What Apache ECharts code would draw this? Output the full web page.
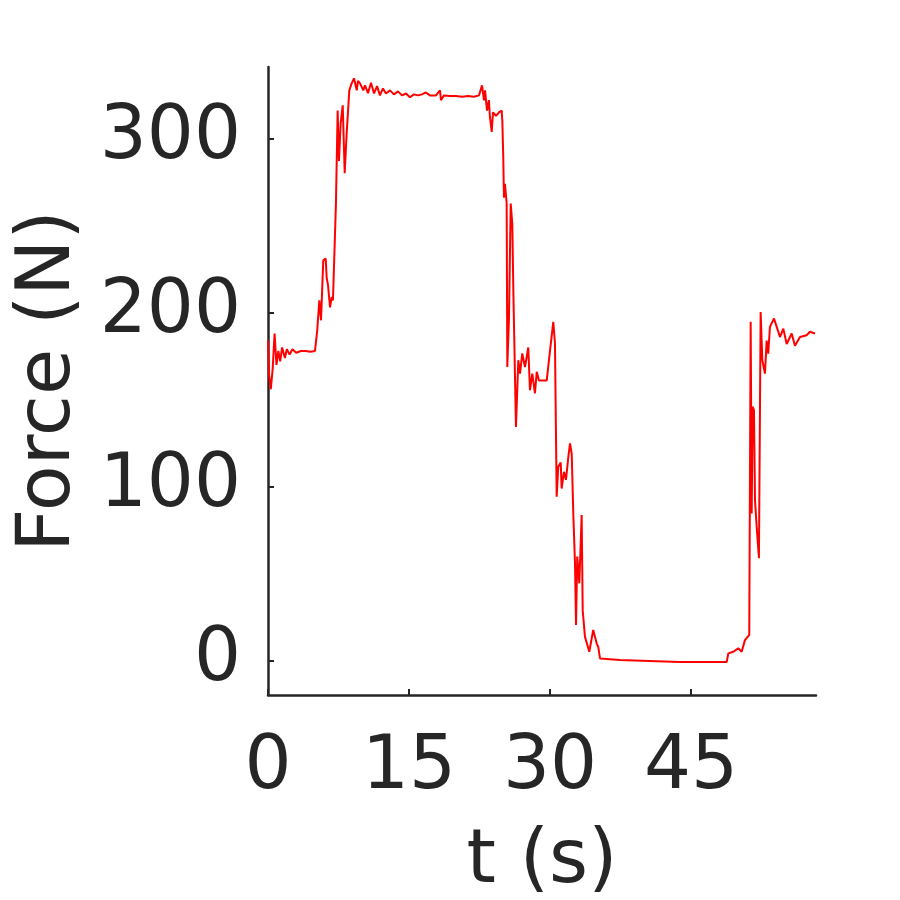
<!DOCTYPE html>
<html>
<head>
<meta charset="utf-8">
<script src="https://cdn.jsdelivr.net/npm/echarts@6/dist/echarts.min.js"></script>
<style>
html,body{margin:0;padding:0;background:#fff;}
#chart{width:900px;height:900px;}
</style>
</head>
<body>
<div id="chart"></div>
<script>
const timeS = [
  0, 0.1, 0.3, 0.5, 0.7, 0.9, 1.1, 1.3, 1.5, 1.8, 2.0, 2.3, 2.6, 3.0, 3.5, 4.0, 4.5, 5.0,
  5.24, 5.46, 5.64, 5.88, 6.14, 6.24, 6.38, 6.6, 6.78, 6.91, 7.23, 7.41, 7.55, 7.73, 7.95, 8.16, 8.37, 8.65, 8.9, 9.15, 9.44, 9.57, 9.79, 10.14,
  10.32, 10.64, 10.96, 11.28, 11.6, 11.91, 12.23, 12.55, 12.98, 13.4, 13.83, 14.26, 14.68, 15.1, 15.53, 15.96, 16.38, 16.8, 17.23, 17.87, 18.3, 18.4, 18.72, 19.36, 20.0, 20.64, 21.28, 21.9, 22.45,
  22.77, 22.98, 23.09, 23.3, 23.5, 23.6, 23.8, 23.94, 24.26, 24.57, 24.86, 24.93, 25.03, 25.1, 25.21, 25.39, 25.46, 25.64, 25.82, 25.99, 26.1, 26.38, 26.63, 26.81, 27.05, 27.34, 27.69, 27.87, 28.12, 28.4, 28.59, 28.83, 29.12, 29.65, 30.0, 30.35, 30.53,
  30.71, 30.88, 31.14, 31.24, 31.49, 31.7, 31.95, 32.13, 32.31, 32.48, 32.66, 32.77, 32.9, 33.12, 33.37, 33.48, 33.72, 34.18, 34.6, 34.97, 35.14, 35.32,
  37.45, 40.6, 43.8, 47.0, 48.8, 48.97, 49.5, 50.03, 50.39, 50.74, 51.2,
  51.35, 51.46, 51.56, 51.7, 51.81, 51.99, 52.23, 52.41, 52.59, 52.87, 53.05, 53.22, 53.4, 53.83, 54.12, 54.47, 54.82, 55.18, 55.71, 56.06, 56.6, 57.3, 57.66, 58.2
];
const forceN = [
  184, 165, 156, 168, 188, 170, 178, 172, 180, 174, 179, 176, 179, 177, 178, 178, 177.5, 178,
  190, 207, 195.6, 230, 231, 220, 216, 203, 209, 207, 263, 316, 287, 308.7, 319, 280, 303, 327.6, 331.6, 334.5, 327.6, 333, 331.6, 327.6,
  330.5, 326, 332, 325.8, 330, 324.7, 328.7, 325.8, 327.6, 325.3, 327, 324.7, 325.8, 323.6, 325.3, 324.7, 325.3, 326.4, 324.7, 324.7, 327.6, 321.9, 324.7, 324.4, 324.4, 323.9, 324.4, 323.9, 324.7,
  330.5, 321.9, 327.6, 316, 322, 313, 303.7, 315, 313, 315, 316, 310, 289, 266, 274, 262.8, 168.8, 197.5, 262.6, 251, 213, 134.4, 172.7, 165, 176.6, 168.8, 180, 155.5, 165, 153.7, 166, 161, 161, 161, 178, 194.7, 182.4,
  94.3, 111.5, 114, 99, 108.6, 104, 117, 124.9, 119, 84.7, 56, 20.7, 60, 44.6, 83.8, 29, 14, 5.3, 17.8, 10, 8, 1.5,
  0.6, 0, -0.6, -0.6, -0.6, 4.4, 5.3, 7.3, 5.3, 12, 15,
  194.7, 84.7, 146, 144, 92.4, 77, 59, 200.4, 172.7, 165, 184, 176.5, 191.8, 196.6, 191.8, 186, 190.8, 182, 188, 181, 186, 187, 189, 188
];
const xTicks = [0, 15, 30, 45];
const yTicks = [0, 100, 200, 300];

const points = timeS.map((t, i) => [t, forceN[i]]);
const textColor = '#262626';
const font = 'DejaVu Sans';

const chart = echarts.init(document.getElementById('chart'));
chart.setOption({
  animation: false,
  backgroundColor: '#ffffff',
  grid: { left: 268, right: 84, top: 67, bottom: 205, containLabel: false, outerBoundsMode: 'none' },
  xAxis: {
    type: 'value', min: 0, max: 58.3,
    name: 't (s)', nameLocation: 'middle', nameGap: 130,
    nameTextStyle: { color: textColor, fontSize: 75, fontFamily: font },
    axisLine: { show: true, onZero: false, lineStyle: { color: textColor, width: 2.5 } },
    axisTick: { show: true, inside: true, length: 6, lineStyle: { color: textColor, width: 2 }, customValues: xTicks },
    axisLabel: { color: textColor, fontSize: 74, fontFamily: font, margin: 37, customValues: xTicks },
    splitLine: { show: false }
  },
  yAxis: {
    type: 'value', min: -19.5, max: 341,
    name: 'Force (N)', nameLocation: 'middle', nameGap: 181,
    nameTextStyle: { color: textColor, fontSize: 75, fontFamily: font },
    axisLine: { show: true, onZero: false, lineStyle: { color: textColor, width: 2.5 } },
    axisTick: { show: true, inside: true, length: 6, lineStyle: { color: textColor, width: 2 }, customValues: yTicks },
    axisLabel: { color: textColor, fontSize: 74, fontFamily: font, margin: 27, customValues: yTicks },
    splitLine: { show: false }
  },
  series: [{
    type: 'line', data: points, showSymbol: false,
    lineStyle: { color: '#ff0000', width: 2 }, itemStyle: { color: '#ff0000' }
  }]
});
</script>
</body>
</html>
